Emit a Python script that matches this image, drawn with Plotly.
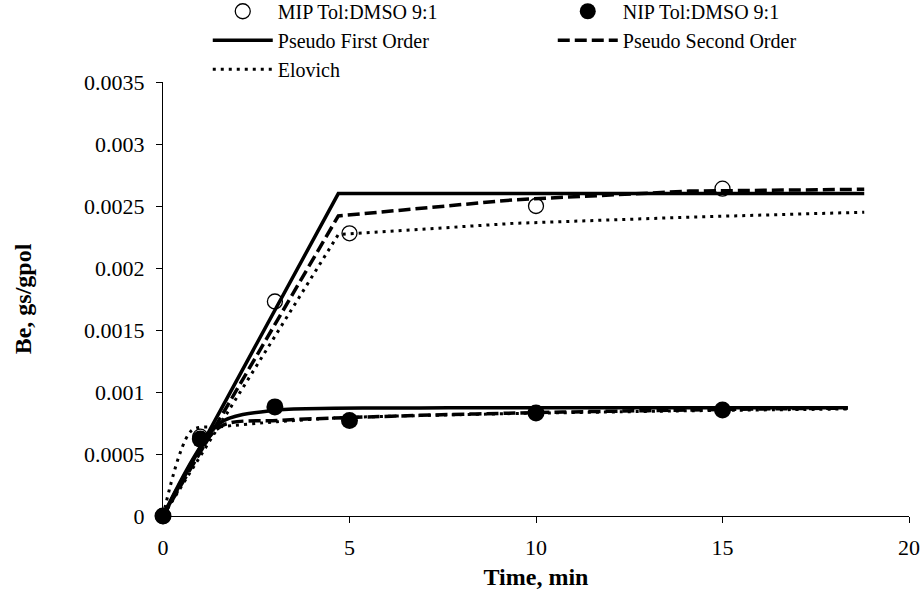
import plotly.graph_objects as go

# Experimental data
t_exp = [0, 1, 3, 5, 10, 15]
mip_exp = [0, 0.00064, 0.00173, 0.00228, 0.00250, 0.00264]
nip_exp = [0, 0.00062, 0.00088, 0.00077, 0.00083, 0.000855]

# Model curves, MIP
t_mip_model = [0, 4.7, 9.4, 14.1, 18.8]
mip_pfo = [0, 0.00260, 0.00260, 0.00260, 0.00260]
mip_pso = [0, 0.00242, 0.00255, 0.00262, 0.002635]
mip_elo = [0, 0.00227, 0.00236, 0.00241, 0.00245]

# Model curves, NIP
t_nip_model = [0, 1.53, 3.06, 4.59, 6.12, 7.65, 9.18, 10.71, 12.24, 13.77, 15.3, 16.83, 18.36]
nip_pfo = [0, 0.00075, 0.000855, 0.000868, 0.000871, 0.000872, 0.000872, 0.000872,
           0.000872, 0.000872, 0.000872, 0.000872, 0.000872]
nip_pso = [0, 0.00072, 0.00077, 0.00079, 0.000805, 0.000818, 0.000828, 0.000838,
           0.000846, 0.000853, 0.00086, 0.000866, 0.00087]
t_nip_elo = [0, 0.77, 1.53, 3.06, 4.59, 6.12, 7.65, 9.18, 10.71, 12.24, 13.77, 15.3, 16.83, 18.36]
nip_elo = [0, 0.00069, 0.00072, 0.00076, 0.00079, 0.000805, 0.000815, 0.000825,
           0.000833, 0.00084, 0.000847, 0.000853, 0.000858, 0.000863]

y_ticks = [0, 0.0005, 0.001, 0.0015, 0.002, 0.0025, 0.003, 0.0035]
y_ticktext = ["0", "0.0005", "0.001", "0.0015", "0.002", "0.0025", "0.003", "0.0035"]
x_ticks = [0, 5, 10, 15, 20]

FONT = "Liberation Serif, Times New Roman, serif"
solid = dict(color="black", width=3.5)
dashed = dict(color="black", width=3.5, dash="12px,5px")
dotted = dict(color="black", width=3, dash="3px,5px")

fig = go.Figure()

fig.add_trace(go.Scatter(x=t_exp, y=mip_exp, mode="markers", name="MIP Tol:DMSO 9:1",
                         marker=dict(symbol="circle-open", size=15, color="black", line=dict(width=1.3)),
                         cliponaxis=False, legendrank=1))
fig.add_trace(go.Scatter(x=t_mip_model, y=mip_pfo, mode="lines", name="Pseudo First Order",
                         line=solid, legendgroup="pfo", legendrank=3))
fig.add_trace(go.Scatter(x=t_mip_model, y=mip_pso, mode="lines", name="Pseudo Second Order",
                         line=dashed, legendgroup="pso", legendrank=4))
fig.add_trace(go.Scatter(x=t_mip_model, y=mip_elo, mode="lines", name="Elovich",
                         line=dotted, legendgroup="elo", legendrank=5))
fig.add_trace(go.Scatter(x=t_nip_model, y=nip_pfo, mode="lines", name="Pseudo First Order",
                         line=dict(solid, shape="spline", smoothing=0.8), legendgroup="pfo", showlegend=False))
fig.add_trace(go.Scatter(x=t_nip_model, y=nip_pso, mode="lines", name="Pseudo Second Order",
                         line=dict(dashed, shape="spline", smoothing=0.8), legendgroup="pso", showlegend=False))
fig.add_trace(go.Scatter(x=t_nip_elo, y=nip_elo, mode="lines", name="Elovich",
                         line=dict(dotted, shape="spline", smoothing=0.8), legendgroup="elo", showlegend=False))
fig.add_trace(go.Scatter(x=t_exp, y=nip_exp, mode="markers", name="NIP Tol:DMSO 9:1",
                         marker=dict(symbol="circle", size=17, color="black"),
                         cliponaxis=False, legendrank=2))

axis_common = dict(showline=True, linecolor="black", linewidth=1.3, ticks="outside",
                   ticklen=6, tickcolor="black", tickwidth=1.3, showgrid=False, zeroline=False,
                   tickfont=dict(family=FONT, size=22, color="black"))

fig.update_layout(
    width=923, height=590,
    margin=dict(l=163, r=14, t=82, b=74, autoexpand=False),
    plot_bgcolor="white", paper_bgcolor="white",
    font=dict(family=FONT, size=20, color="black"),
    xaxis=dict(axis_common, range=[0, 20], tickvals=x_ticks, ticklabelstandoff=5,
               title=dict(text="<b>Time, min</b>", font=dict(family=FONT, size=24), standoff=10)),
    yaxis=dict(axis_common, range=[0, 0.0035], tickvals=y_ticks, ticktext=y_ticktext,
               ticklabelstandoff=7,
               title=dict(text="<b>Be, gs/gpol</b>", font=dict(family=FONT, size=24), standoff=45)),
    legend=dict(orientation="h", x=0.06, xanchor="left", y=1.208, yanchor="top",
                entrywidth=270, entrywidthmode="pixels", itemwidth=60,
                font=dict(family=FONT, size=20, color="black"), bgcolor="rgba(0,0,0,0)",
                traceorder="normal"),
)

fig.write_html("out.html")
